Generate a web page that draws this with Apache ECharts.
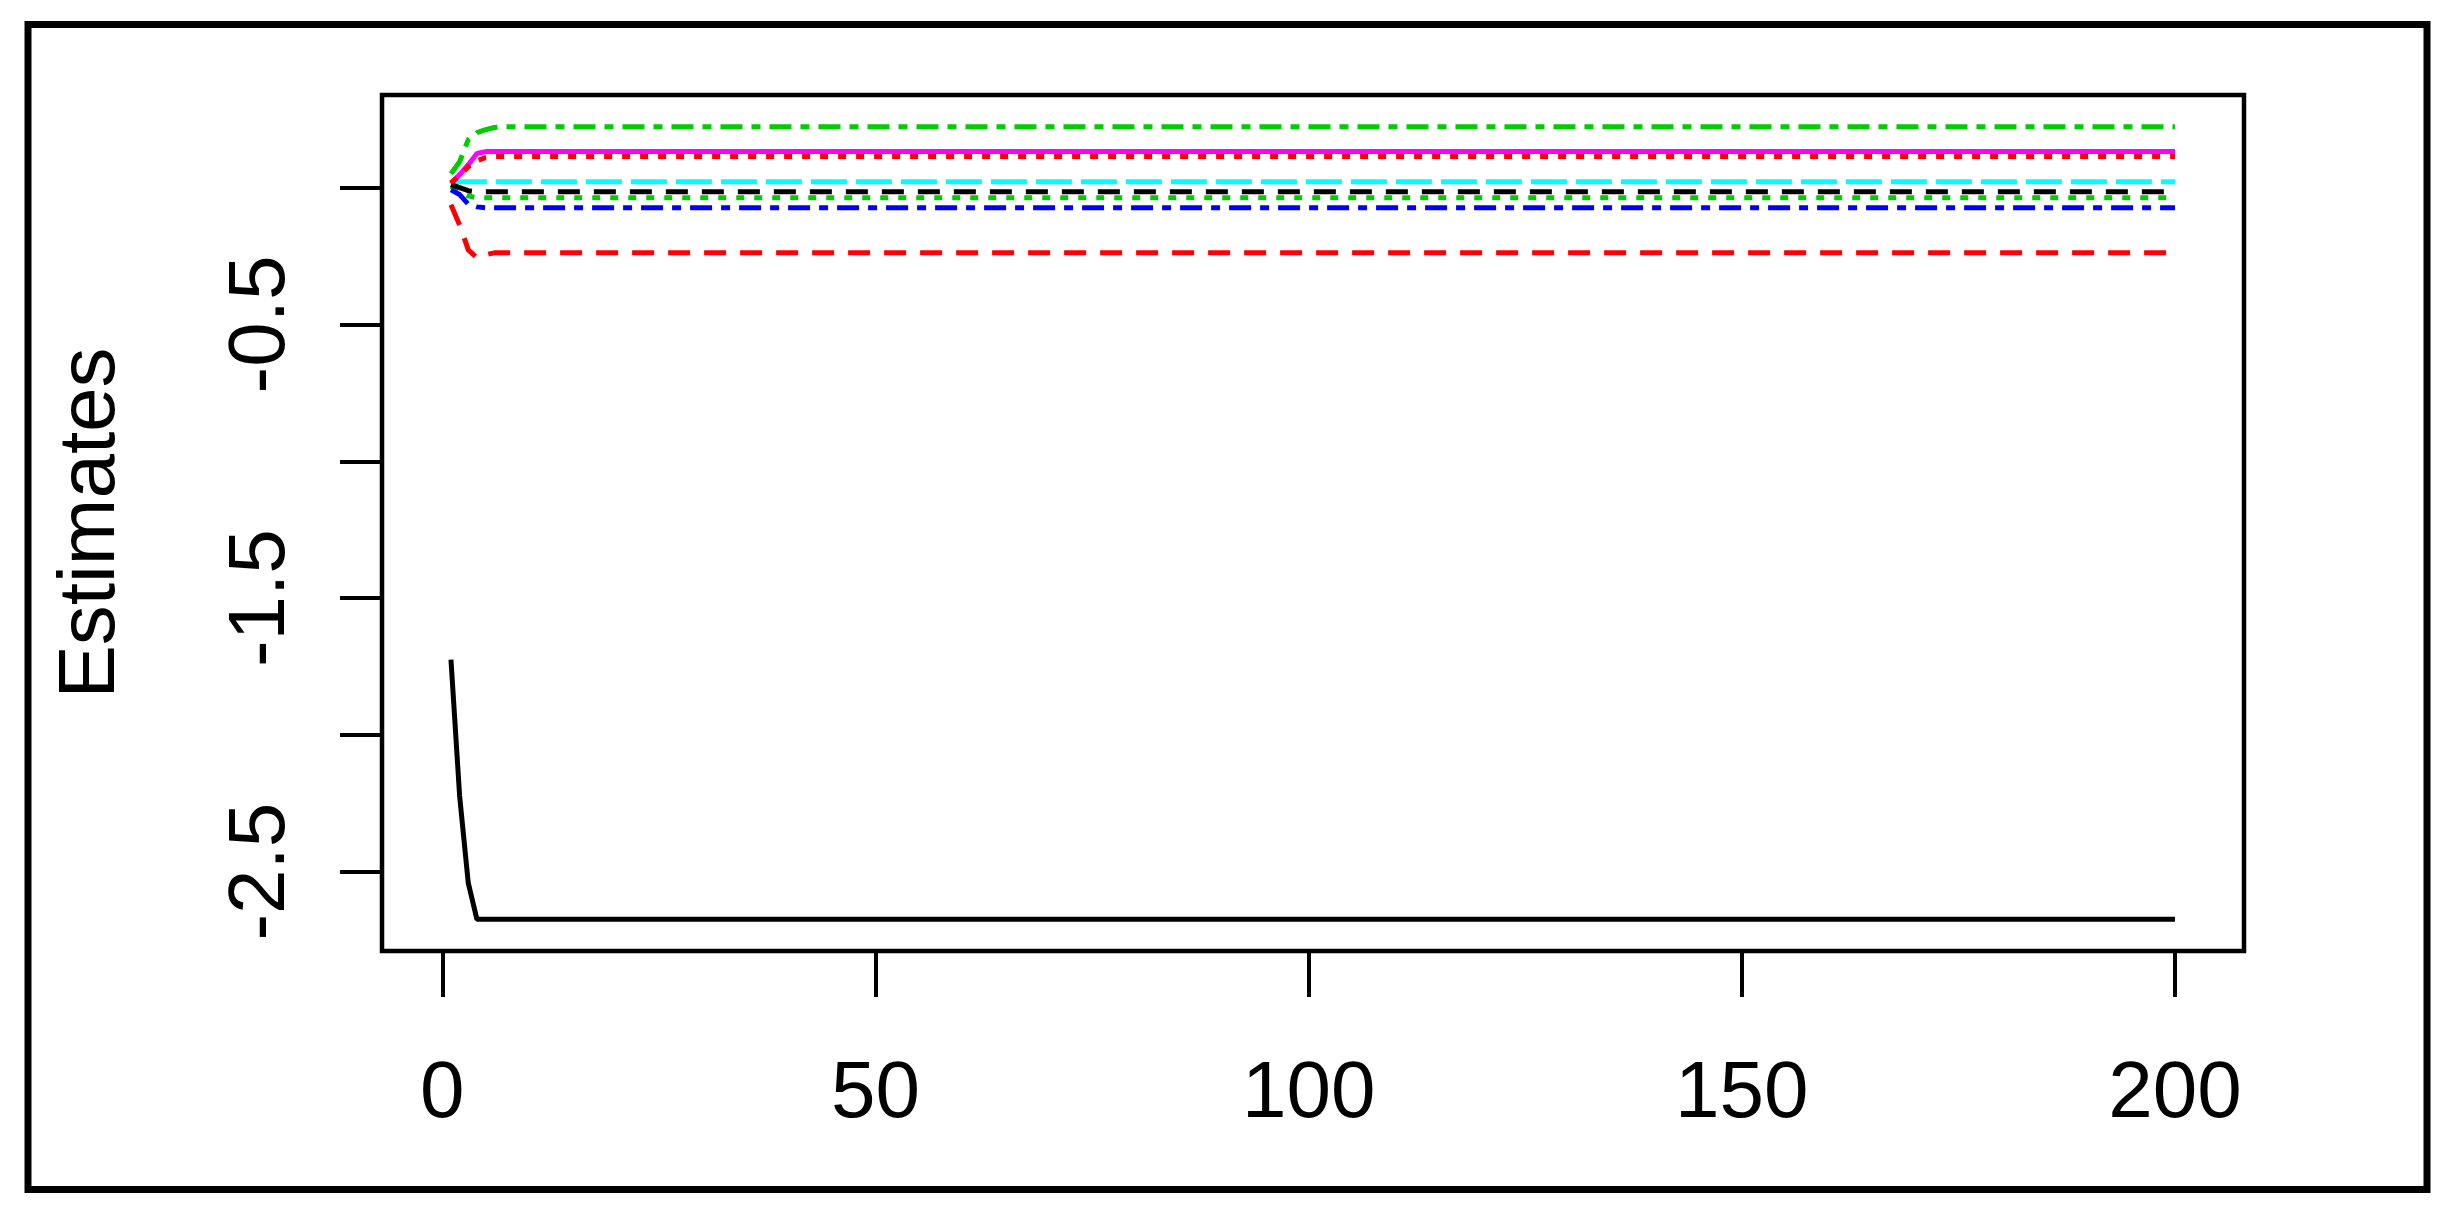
<!DOCTYPE html>
<html>
<head>
<meta charset="utf-8">
<title>Estimates</title>
<script src="https://cdn.jsdelivr.net/npm/echarts@6/dist/echarts.min.js"></script>
<style>
  html, body { margin: 0; padding: 0; background: #fff; }
  #chart { width: 2455px; height: 1214px; }
</style>
</head>
<body>
<div id="chart"></div>
<script>
// iteration numbers where the traces change shape; flat after that up to 200
const iterations = [1, 2, 3, 4, 5, 6, 7, 200];

const est1 = [-1.725, -2.223, -2.542, -2.674, -2.674, -2.674, -2.674, -2.674];
const est2 = [-0.062, -0.136, -0.227, -0.256, -0.245, -0.238, -0.238, -0.238];
const est3 = [0.005, -0.015, -0.030, -0.037, -0.037, -0.037, -0.037, -0.037];
const est4 = [-0.008, -0.025, -0.060, -0.070, -0.073, -0.073, -0.073, -0.073];
const est5 = [0.018, 0.022, 0.022, 0.022, 0.022, 0.022, 0.022, 0.022];
const est6 = [0.015, 0.048, 0.084, 0.125, 0.132, 0.132, 0.132, 0.132];
const est7 = [0.011, 0.000, -0.011, -0.015, -0.015, -0.015, -0.015, -0.015];
const est8 = [0.018, 0.044, 0.077, 0.099, 0.110, 0.114, 0.114, 0.114];
const est9 = [0.051, 0.095, 0.176, 0.201, 0.212, 0.220, 0.223, 0.223];

const xTicks = [0, 50, 100, 150, 200];
const yTicks = [0, -0.5, -1, -1.5, -2, -2.5];
const yLabels = [-0.5, -1.5, -2.5];

// matplot style cycle: col 1:6, lty 1:5
const traces = [
  { data: est1, color: "#000000", dash: "solid" },
  { data: est2, color: "#FF0000", dash: [22, 14] },
  { data: est3, color: "#00CD00", dash: [8, 10] },
  { data: est4, color: "#0000FF", dash: [22, 9, 9, 9] },
  { data: est5, color: "#00FFFF", dash: [36, 9] },
  { data: est6, color: "#FF00FF", dash: "solid" },
  { data: est7, color: "#000000", dash: [22, 14] },
  { data: est8, color: "#FF0000", dash: [8, 10] },
  { data: est9, color: "#00CD00", dash: [22, 9, 9, 9] }
];

// R-style 4% padding of the axis range
function padRange(lo, hi) {
  const d = (hi - lo) * 0.04;
  return [lo - d, hi + d];
}
const allY = traces.reduce((a, t) => a.concat(t.data), []);
const yRange = padRange(Math.min(...allY), Math.max(...allY));
const xRange = padRange(Math.min(...iterations), Math.max(...iterations));

const font = "Liberation Sans, Arial, sans-serif";

const option = {
  backgroundColor: "#ffffff",
  animation: false,
  graphic: [
    {
      type: "rect",
      silent: true,
      shape: { x: 28, y: 24.5, width: 2399, height: 1165 },
      style: { fill: "none", stroke: "#000", lineWidth: 7 }
    }
  ],
  grid: {
    left: 382,
    top: 95,
    right: 211,
    bottom: 263,
    show: true,
    borderColor: "#000",
    borderWidth: 4.5,
    backgroundColor: "transparent"
  },
  xAxis: {
    type: "value",
    min: xRange[0],
    max: xRange[1],
    axisLine: { show: false, onZero: false },
    splitLine: { show: false },
    axisTick: {
      show: true,
      inside: false,
      length: 46,
      customValues: xTicks,
      lineStyle: { color: "#000", width: 4 }
    },
    axisLabel: {
      customValues: xTicks,
      margin: 104,
      color: "#000",
      fontSize: 80,
      fontFamily: font
    }
  },
  yAxis: {
    type: "value",
    min: yRange[0],
    max: yRange[1],
    name: "Estimates",
    nameLocation: "middle",
    nameRotate: 90,
    nameGap: 250,
    nameTextStyle: { color: "#000", fontSize: 80, fontFamily: font },
    axisLine: { show: false, onZero: false },
    splitLine: { show: false },
    axisTick: {
      show: true,
      inside: false,
      length: 42,
      customValues: yTicks,
      lineStyle: { color: "#000", width: 4 }
    },
    axisLabel: {
      customValues: yLabels,
      rotate: 90,
      margin: 80,
      color: "#000",
      fontSize: 80,
      fontFamily: font
    }
  },
  series: traces.map((t) => ({
    type: "line",
    symbol: "none",
    data: iterations.map((it, i) => [it, t.data[i]]),
    lineStyle: { color: t.color, width: 5, type: t.dash, cap: "butt" }
  }))
};

const myChart = echarts.init(document.getElementById("chart"));
myChart.setOption(option);
</script>
</body>
</html>
